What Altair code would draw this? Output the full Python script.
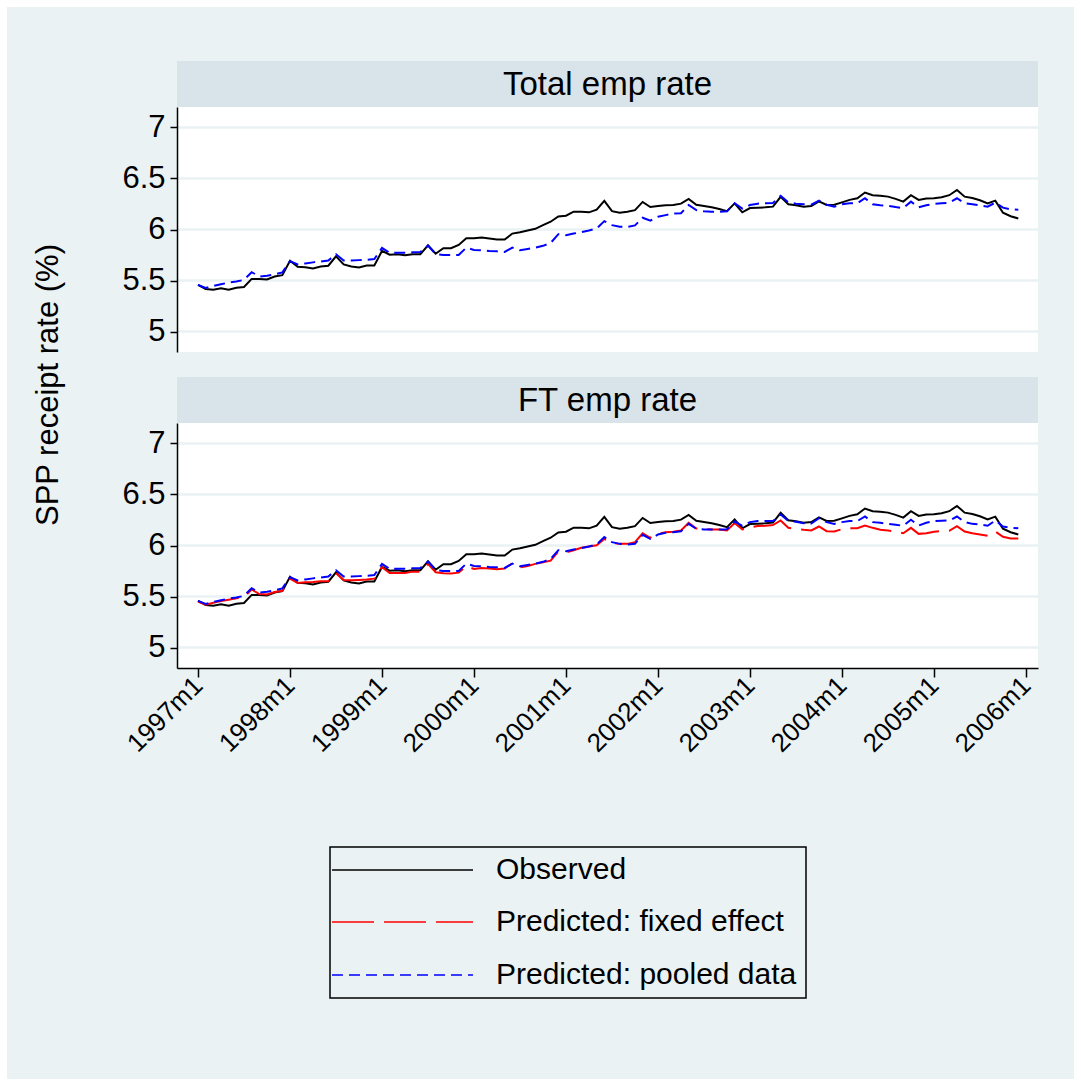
import json
import altair as alt
import pandas as pd

# ---------------- data ----------------
start_year = 1997
x_labels = ["1997m1", "1998m1", "1999m1", "2000m1", "2001m1",
            "2002m1", "2003m1", "2004m1", "2005m1", "2006m1"]
y_ticks = [5, 5.5, 6, 6.5, 7]
panel_titles = ["Total emp rate", "FT emp rate"]
series_names = ["Observed", "Predicted: fixed effect", "Predicted: pooled data"]

observed = [
    5.457, 5.418, 5.410, 5.424, 5.410, 5.430, 5.437, 5.516, 5.516, 5.510, 5.540, 5.553,
    5.694, 5.635, 5.630, 5.618, 5.638, 5.645, 5.737, 5.658, 5.638, 5.628, 5.648, 5.648,
    5.790, 5.753, 5.757, 5.747, 5.757, 5.757, 5.845, 5.763, 5.816, 5.816, 5.849, 5.914,
    5.914, 5.921, 5.911, 5.901, 5.901, 5.960, 5.974, 5.990, 6.007, 6.043, 6.076, 6.128,
    6.135, 6.174, 6.174, 6.168, 6.194, 6.280, 6.180, 6.164, 6.174, 6.190, 6.270, 6.220,
    6.230, 6.237, 6.240, 6.253, 6.300, 6.243, 6.230, 6.217, 6.200, 6.180, 6.256, 6.168,
    6.210, 6.214, 6.217, 6.224, 6.320, 6.247, 6.237, 6.224, 6.230, 6.276, 6.240, 6.243,
    6.266, 6.290, 6.306, 6.362, 6.336, 6.330, 6.322, 6.300, 6.273, 6.336, 6.290, 6.303,
    6.306, 6.316, 6.336, 6.388, 6.322, 6.309, 6.286, 6.256, 6.283, 6.164, 6.130, 6.108,
]

pooled_total = [
    5.457, 5.428, 5.447, 5.464, 5.480, 5.490, 5.507, 5.582, 5.540, 5.546, 5.560, 5.580,
    5.690, 5.658, 5.668, 5.678, 5.687, 5.697, 5.757, 5.697, 5.697, 5.700, 5.704, 5.710,
    5.820, 5.770, 5.773, 5.773, 5.776, 5.780, 5.842, 5.760, 5.750, 5.750, 5.750, 5.822,
    5.800, 5.796, 5.790, 5.786, 5.780, 5.822, 5.796, 5.810, 5.822, 5.840, 5.868, 5.954,
    5.944, 5.960, 5.974, 5.990, 6.010, 6.082, 6.043, 6.026, 6.026, 6.040, 6.115, 6.086,
    6.125, 6.141, 6.155, 6.160, 6.240, 6.190, 6.178, 6.174, 6.174, 6.178, 6.256, 6.204,
    6.240, 6.253, 6.256, 6.260, 6.330, 6.266, 6.253, 6.247, 6.243, 6.283, 6.243, 6.224,
    6.247, 6.256, 6.256, 6.306, 6.247, 6.237, 6.233, 6.220, 6.210, 6.273, 6.217, 6.237,
    6.250, 6.256, 6.263, 6.306, 6.256, 6.247, 6.237, 6.224, 6.263, 6.214, 6.197, 6.194,
]

pooled_ft = [
    5.457, 5.428, 5.447, 5.464, 5.480, 5.490, 5.507, 5.582, 5.540, 5.546, 5.560, 5.580,
    5.690, 5.658, 5.668, 5.678, 5.687, 5.697, 5.757, 5.697, 5.697, 5.700, 5.704, 5.710,
    5.820, 5.770, 5.773, 5.773, 5.776, 5.780, 5.842, 5.760, 5.750, 5.750, 5.750, 5.822,
    5.800, 5.796, 5.790, 5.786, 5.780, 5.822, 5.796, 5.810, 5.822, 5.840, 5.868, 5.954,
    5.944, 5.960, 5.974, 5.990, 6.010, 6.082, 6.033, 6.016, 6.010, 6.016, 6.105, 6.065,
    6.108, 6.124, 6.130, 6.140, 6.212, 6.163, 6.157, 6.157, 6.157, 6.160, 6.235, 6.193,
    6.229, 6.239, 6.239, 6.239, 6.304, 6.242, 6.232, 6.219, 6.216, 6.268, 6.229, 6.212,
    6.229, 6.239, 6.239, 6.284, 6.229, 6.222, 6.212, 6.203, 6.193, 6.252, 6.196, 6.222,
    6.239, 6.242, 6.245, 6.284, 6.229, 6.212, 6.206, 6.193, 6.245, 6.186, 6.173, 6.170,
]

fixed_ft = [
    5.450, 5.420, 5.440, 5.456, 5.469, 5.482, 5.490, 5.570, 5.525, 5.520, 5.544, 5.557,
    5.675, 5.633, 5.640, 5.643, 5.649, 5.649, 5.728, 5.662, 5.659, 5.662, 5.666, 5.675,
    5.787, 5.731, 5.731, 5.731, 5.744, 5.744, 5.820, 5.738, 5.728, 5.725, 5.734, 5.800,
    5.770, 5.780, 5.774, 5.767, 5.774, 5.826, 5.787, 5.800, 5.820, 5.836, 5.852, 5.941,
    5.931, 5.954, 5.977, 5.990, 6.003, 6.065, 6.026, 6.016, 6.016, 6.033, 6.120, 6.075,
    6.114, 6.130, 6.134, 6.147, 6.222, 6.167, 6.160, 6.157, 6.157, 6.147, 6.220, 6.157,
    6.180, 6.190, 6.193, 6.200, 6.245, 6.173, 6.163, 6.154, 6.147, 6.186, 6.140, 6.137,
    6.160, 6.170, 6.170, 6.196, 6.173, 6.154, 6.147, 6.137, 6.120, 6.173, 6.114, 6.120,
    6.134, 6.144, 6.144, 6.190, 6.137, 6.120, 6.108, 6.095, 6.137, 6.085, 6.069, 6.068,
]

months = list(range(len(observed)))
tick_months = [12 * i for i in range(len(x_labels))]

# ---------------- styling ----------------
W, H = 861, 245
BG = "#EAF2F3"
STRIP = "#D9E4EA"
FONT = "Liberation Sans"
TICK_FS = 31
STRIP_FS = 33
TITLE_FS = 31
LEGEND_FS = 30

styles = {
    "Observed": dict(color="#000000", dash=None),
    "Predicted: fixed effect": dict(color="#FF0000", dash=[42, 10]),
    "Predicted: pooled data": dict(color="#0000FF", dash=[11, 6]),
}

xscale = alt.Scale(domain=[-2.74, 109.57], nice=False, zero=False)
yscale = alt.Scale(domain=[4.8, 7.2], nice=False, zero=False)

y_axis = alt.Axis(values=y_ticks, format="~g", grid=False, domainColor="black",
                  domainWidth=1.5, tickColor="black", tickWidth=1.5, tickSize=7,
                  labelFontSize=TICK_FS, labelFont=FONT, labelColor="black",
                  labelPadding=5, title=None, zindex=2)
label_expr = json.dumps(x_labels) + "[round(datum.value / 12)]"
x_axis_on = alt.Axis(values=tick_months, labelExpr=label_expr, grid=False,
                     domainColor="black", domainWidth=1.5, tickColor="black",
                     tickWidth=1.5, tickSize=9, labelFontSize=26, labelFont=FONT,
                     labelColor="black", labelAngle=-45, labelAlign="right",
                     labelBaseline="middle", labelPadding=4, title=None, zindex=2)

one = pd.DataFrame({"k": [0]})


def line_layer(values, name, x_axis):
    df = pd.DataFrame({"month": months, "rate": values, "series": name})
    st = styles[name]
    kw = dict(color=st["color"], strokeWidth=2, clip=True)
    if st["dash"]:
        kw["strokeDash"] = st["dash"]
    return alt.Chart(df).mark_line(**kw).encode(
        x=alt.X("month:Q", scale=xscale, axis=x_axis),
        y=alt.Y("rate:Q", scale=yscale, axis=y_axis),
    )


def panel(title, lines, x_axis, extra_front=None, extra_back=None):
    layers = []
    if extra_back:
        layers += extra_back
    strip = alt.Chart(one).mark_rect(color=STRIP).encode(
        x=alt.value(0), x2=alt.value(W), y=alt.value(-46), y2=alt.value(0))
    strip_txt = alt.Chart(pd.DataFrame({"t": [title]})).mark_text(
        font=FONT, fontSize=STRIP_FS, color="black", align="center",
        baseline="middle").encode(text="t:N", x=alt.value(W / 2), y=alt.value(-22))
    plot_bg = alt.Chart(one).mark_rect(color="white").encode(
        x=alt.value(0), x2=alt.value(W), y=alt.value(0), y2=alt.value(H))
    grid = alt.Chart(pd.DataFrame({"g": y_ticks})).mark_rule(
        color=BG, strokeWidth=2.5).encode(y=alt.Y("g:Q", scale=yscale, axis=y_axis))
    layers += [strip, strip_txt, plot_bg, grid]
    layers += [line_layer(v, n, x_axis) for v, n in lines]
    if extra_front:
        layers += extra_front
    return alt.layer(*layers).properties(width=W, height=H)


# figure background (behind everything) and shared y title live in panel 1
fig_bg = alt.Chart(one).mark_rect(color=BG).encode(
    x=alt.value(-170), x2=alt.value(897), y=alt.value(-100), y2=alt.value(972))
y_title = alt.Chart(pd.DataFrame({"t": ["SPP receipt rate (%)"]})).mark_text(
    font=FONT, fontSize=TITLE_FS, color="black", angle=270, align="center",
    baseline="middle").encode(text="t:N", x=alt.value(-128), y=alt.value(278))

p1 = panel(panel_titles[0],
           [(observed, series_names[0]), (pooled_total, series_names[2])],
           None, extra_front=[y_title], extra_back=[fig_bg])

# legend (boxed, below the lower panel)
legend_layers = [
    alt.Chart(one).mark_rect(fillOpacity=0, stroke="black", strokeWidth=1.5).encode(
        x=alt.value(153), x2=alt.value(629), y=alt.value(424), y2=alt.value(575))
]
row_y = [447, 499, 552]
for name, ry in zip(series_names, row_y):
    st = styles[name]
    kw = dict(color=st["color"], strokeWidth=1.5)
    if st["dash"]:
        kw["strokeDash"] = st["dash"]
    legend_layers.append(
        alt.Chart(pd.DataFrame({"s": [name]})).mark_rule(**kw).encode(
            x=alt.value(155), x2=alt.value(296), y=alt.value(ry)))
    legend_layers.append(
        alt.Chart(pd.DataFrame({"s": [name]})).mark_text(
            font=FONT, fontSize=LEGEND_FS, color="black", align="left",
            baseline="middle").encode(text="s:N", x=alt.value(319), y=alt.value(ry)))

p2 = panel(panel_titles[1],
           [(observed, series_names[0]), (fixed_ft, series_names[1]),
            (pooled_ft, series_names[2])],
           x_axis_on, extra_front=legend_layers)

chart = alt.vconcat(p1, p2, spacing=71, bounds="flush").properties(
    padding=7, background="white"
).configure_view(strokeWidth=0, fill=None)

chart.save("out.html", embed_options={"renderer": "svg", "actions": False})
